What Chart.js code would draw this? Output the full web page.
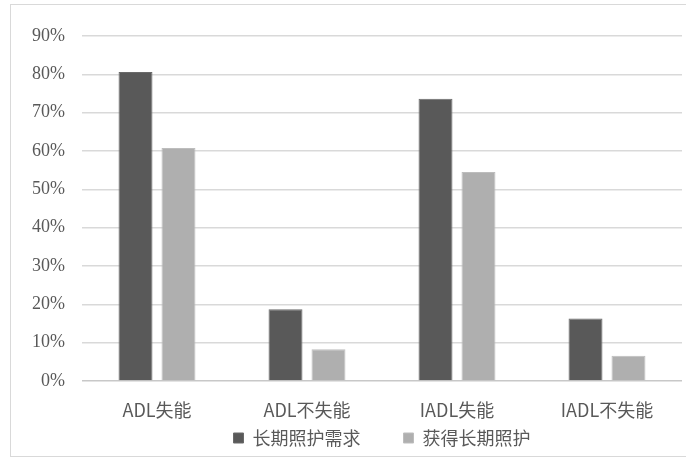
<!DOCTYPE html>
<html><head><meta charset="utf-8">
<script src="https://cdn.jsdelivr.net/npm/chart.js@4"></script>
<style>html,body{margin:0;padding:0;background:#fff}#wrap{width:686px;height:459px;position:relative}</style>
</head><body><div id="wrap"><canvas id="c"></canvas></div>
<script>
const categories = ['ADL失能', 'ADL不失能', 'IADL失能', 'IADL不失能'];
const seriesNames = ['长期照护需求', '获得长期照护'];
const needCare = [0.806, 0.187, 0.736, 0.163];
const receivedCare = [0.608, 0.083, 0.545, 0.066];
const yMin = 0, yMax = 0.9, yStep = 0.1;

const framePlugin = {
  id: 'frame',
  beforeDraw(chart) {
    const ctx = chart.ctx;
    ctx.save();
    ctx.fillStyle = '#fff';
    ctx.fillRect(0, 0, chart.width, chart.height);
    ctx.strokeStyle = '#d9d9d9';
    ctx.lineWidth = 1;
    ctx.strokeRect(10.5, 4.5, 700, 452);
    ctx.restore();
  }
};

const legendFix = {
  id: 'legendFix',
  beforeLayout(chart) {
    const lg = chart.legend;
    if (lg && !lg._patched) {
      const f = lg.fit.bind(lg);
      lg.fit = function () { f(); this.height = 18; };
      lg._patched = true;
    }
  },
  afterLayout(chart) {
    const lg = chart.legend;
    if (lg) {
      lg.top = chart.chartArea.bottom + 5;
      lg.bottom = chart.height;
      lg.height = lg.bottom - lg.top;
    }
  }
};

new Chart(document.getElementById('c'), {
  type: 'bar',
  data: {
    labels: categories,
    datasets: [
      { label: seriesNames[0], data: needCare, backgroundColor: '#595959', borderColor: '#6a6a6a', borderWidth: 1 },
      { label: seriesNames[1], data: receivedCare, backgroundColor: '#afafaf', borderColor: '#bdbdbd', borderWidth: 1 }
    ]
  },
  options: {
    responsive: true,
    maintainAspectRatio: false,
    animation: false,
    categoryPercentage: 0.573,
    barPercentage: 0.79,
    layout: { padding: { left: 0, top: 36, right: 4, bottom: 0 } },
    plugins: {
      tooltip: { enabled: false },
      legend: {
        position: 'bottom',
        fullSize: false,
        labels: {
          boxWidth: 10, boxHeight: 10, padding: 43,
          color: '#595959',
          font: { family: '"Noto Sans CJK SC", "Noto Sans", sans-serif', size: 18 }
        }
      }
    },
    scales: {
      x: {
        grid: { display: false },
        border: { display: false },
        ticks: {
          padding: 10,
          color: '#595959',
          font: { family: '"Noto Sans CJK SC", "Noto Sans", sans-serif', size: 18 }
        },
        afterFit(s) { s.height = 60; }
      },
      y: {
        min: yMin, max: yMax,
        border: { display: false },
        grid: {
          drawTicks: false,
          color: (c) => c.tick && c.tick.value === 0 ? '#c8c8c8' : '#d9d9d9',
          lineWidth: 1.5
        },
        ticks: {
          stepSize: yStep,
          padding: 17,
          color: '#595959',
          font: { family: '"Liberation Serif", "DejaVu Serif", serif', size: 18 },
          callback: (v) => Math.round(v * 100) + '%'
        },
        afterFit(s) { s.width = 82; }
      }
    }
  },
  plugins: [framePlugin, legendFix]
});
</script>
</body></html>
